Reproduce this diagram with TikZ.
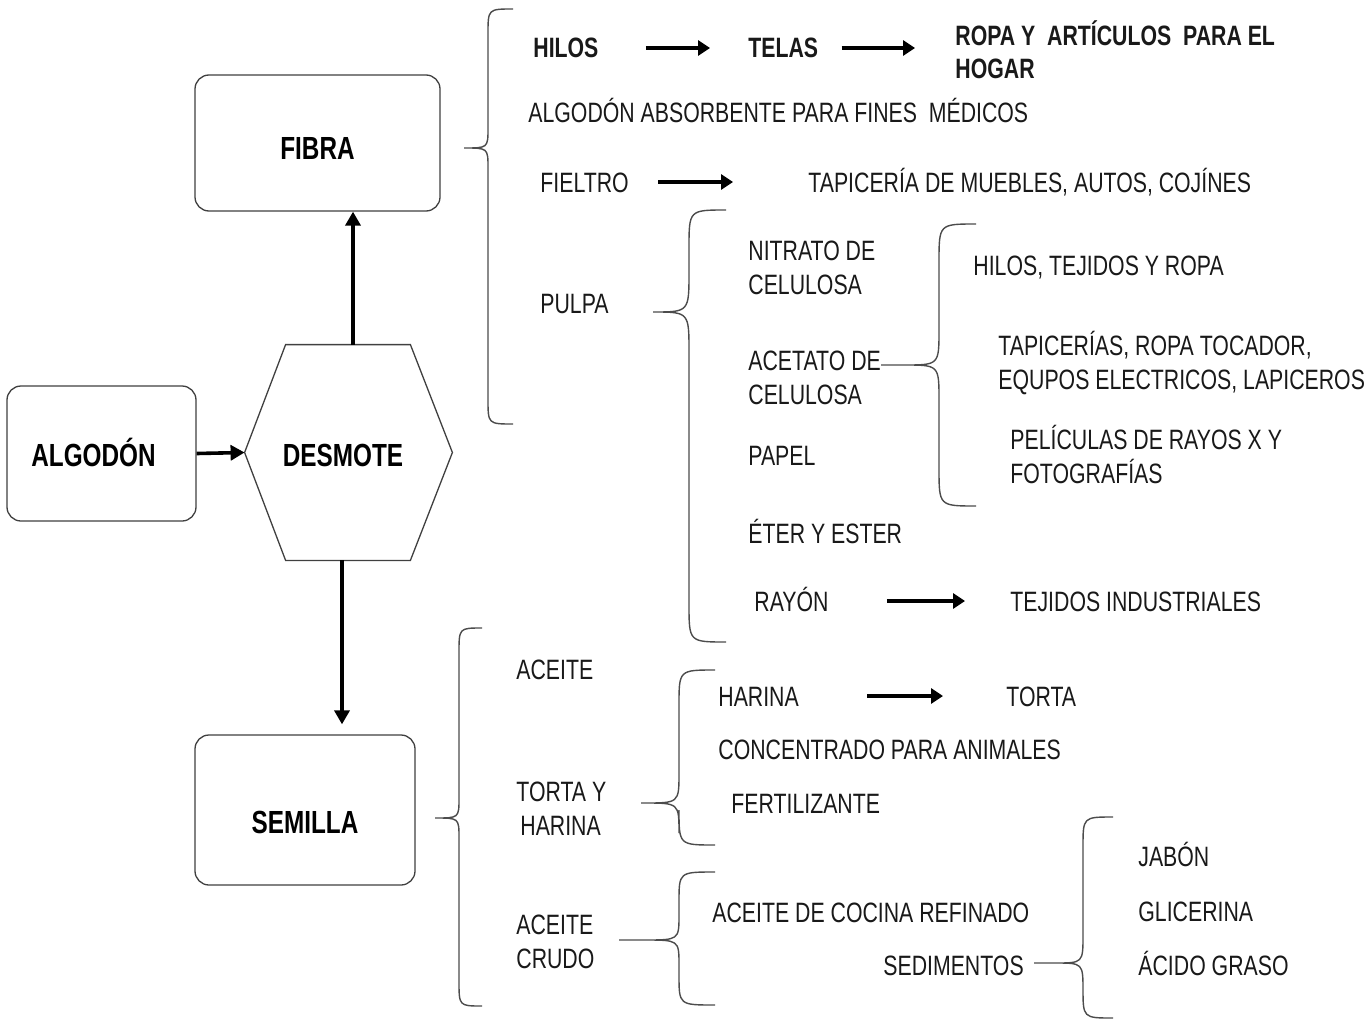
\documentclass[tikz,border=0pt]{standalone}
\usepackage{fontspec}
\setmainfont[FakeStretch=0.76]{Liberation Sans}
\usetikzlibrary{arrows.meta}
% brace: xe xv xt ytop ytip ybot r1 r2 w
\newcommand{\mybrace}[9]{%
  \draw[brc] (#1,#4) .. controls (#2,#4) .. (#2,#4+#7) -- (#2,#5-#8)
    .. controls (#2,#5) .. (#2-#9,#5) -- (#3,#5)
    (#2-#9,#5) .. controls (#2,#5) .. (#2,#5+#8) -- (#2,#6-#7)
    .. controls (#2,#6) .. (#1,#6);}
\begin{document}
\begin{tikzpicture}[x=0.5pt,y=-0.5pt,
  txt/.style={font=\fontsize{14pt}{17pt}\selectfont, inner sep=0pt, anchor=base west, align=left, text=black!90},
  btxt/.style={txt, font=\fontsize{14pt}{17pt}\selectfont\bfseries},
  box/.style={draw=black!75, line width=0.65pt, rounded corners=7pt, inner sep=0pt,
    font=\fontsize{16pt}{19pt}\selectfont\bfseries, text depth=0pt},
  hexline/.style={draw=black!75, line width=0.65pt},
  arr/.style={line width=1.8pt, -{Triangle[length=7pt,width=7.5pt]}},
  sarr/.style={line width=2pt, -{Triangle[length=6pt,width=7.5pt]}},
  brc/.style={draw=black!70, line width=0.7pt}
]
\useasboundingbox (0,0) rectangle (1365,1022);
\fill[white] (0,0) rectangle (1365,1022);

% main boxes
\node[box, minimum width=122.5pt, minimum height=68pt, text height=16pt] (fibra) at (317.5,143) {FIBRA};
\node[box, minimum width=94.5pt, minimum height=67.5pt, text height=13pt] (algodon) at (101.5,453.5) {\hspace*{-8pt}ALGODÓN};
\node[box, minimum width=110pt, minimum height=75pt, text height=23.5pt] (semilla) at (305,810) {SEMILLA};
\node[inner sep=0pt, minimum width=103.5pt, minimum height=107.5pt, text height=14pt, text depth=0pt,
  font=\fontsize{16pt}{19pt}\selectfont\bfseries] (desmote) at (348.5,452.5) {\hspace*{-5.5pt}DESMOTE};
\draw[hexline] ([xshift=20.5pt]desmote.north west) -- ([xshift=-21pt]desmote.north east) -- (desmote.east)
  -- ([xshift=-21pt]desmote.south east) -- ([xshift=20.5pt]desmote.south west) -- (desmote.west) -- cycle;

\draw[arr] (algodon.east) -- (desmote.west);
\draw[arr] ([xshift=2.25pt]desmote.north) -- ([xshift=2.25pt]desmote.north |- fibra.south);
\draw[arr, shorten >=5pt] ([xshift=-3.25pt]desmote.south) -- ([xshift=-3.25pt]desmote.south |- semilla.north);

% fibra branch (multi-line nodes: base = last line)
\node[btxt] (hilos) at (533,58) {HILOS};
\node[btxt] (telas) at (748,58) {TELAS};
\node[btxt] (ropa) at (955,79) {ROPA Y\ \ ARTÍCULOS\ \ PARA EL\\HOGAR};
\node[txt] (algabs) at (528,123) {ALGODÓN ABSORBENTE PARA FINES\ \ MÉDICOS};
\node[txt] (fieltro) at (540,192) {FIELTRO};
\node[txt] (tapiceria) at (808,192) {TAPICERÍA DE MUEBLES, AUTOS, COJÍNES};
\node[txt] (pulpa) at (540,313) {PULPA};
\node[txt] (nitrato) at (748,294) {NITRATO DE\\CELULOSA};
\node[txt] (acetato) at (748,404) {ACETATO DE\\CELULOSA};
\node[txt] (papel) at (748,465) {PAPEL};
\node[txt] (eter) at (748,543) {ÉTER Y ESTER};
\node[txt] (rayon) at (754,611) {RAYÓN};
\node[txt] (tejind) at (1010,611) {TEJIDOS INDUSTRIALES};
\node[txt] (hilostej) at (973,275) {HILOS, TEJIDOS Y ROPA};
\node[txt] (tapicerias) at (998,389) {TAPICERÍAS, ROPA TOCADOR,\\EQUPOS ELECTRICOS, LAPICEROS};
\node[txt] (peliculas) at (1010,483) {PELÍCULAS DE RAYOS X Y\\FOTOGRAFÍAS};

\draw[sarr, shorten <=23.5pt, shorten >=19pt] ([yshift=5pt]hilos.base east) -- ([yshift=5pt]hilos.base east -| telas.base west);
\draw[sarr, shorten <=11.5pt, shorten >=20pt] ([yshift=5pt]telas.base east) -- ([yshift=5pt]telas.base east -| ropa.base west);
\draw[sarr, shorten <=14.5pt, shorten >=37.5pt] ([yshift=5pt]fieltro.base east) -- ([yshift=5pt]fieltro.base east -| tapiceria.base west);
\draw[sarr, shorten <=29pt, shorten >=22.5pt] ([yshift=5pt]rayon.base east) -- ([yshift=5pt]rayon.base east -| tejind.base west);

% semilla branch
\node[txt] (aceite) at (516,679) {ACEITE};
\node[txt] (tortay) at (516,835) {TORTA Y\\\hspace*{2pt}HARINA};
\node[txt] (crudo) at (516,968) {ACEITE\\CRUDO};
\node[txt] (harina) at (718,706) {HARINA};
\node[txt] (torta) at (1006,706) {TORTA};
\node[txt] (concentrado) at (718,759) {CONCENTRADO PARA ANIMALES};
\node[txt] (fertilizante) at (731,813) {FERTILIZANTE};
\node[txt] (cocina) at (712,922) {ACEITE DE COCINA REFINADO};
\node[txt] (sedimentos) at (883,975) {SEDIMENTOS};
\node[txt] (jabon) at (1138,866) {JABÓN};
\node[txt] (glicerina) at (1138,921) {GLICERINA};
\node[txt] (acido) at (1138,975) {ÁCIDO GRASO};

\draw[sarr, shorten <=34pt, shorten >=31.5pt] ([yshift=5pt]harina.base east) -- ([yshift=5pt]harina.base east -| torta.base west);

% braces
\mybrace{513}{488}{464}{9}{148}{424}{25}{20}{24}
\mybrace{726}{689}{653}{210}{312}{642}{38}{40}{36}
\mybrace{976}{939}{881}{224}{365}{506}{38}{35}{35}
\mybrace{482}{459}{435}{628}{818}{1006}{25}{20}{24}
\mybrace{715}{679}{641}{670}{803}{845}{35}{30}{35}
\mybrace{715}{679}{619}{872}{940}{1005}{30}{25}{35}
\mybrace{1113}{1083}{1034}{817}{963}{1018}{30}{28}{28}
\end{tikzpicture}
\end{document}
